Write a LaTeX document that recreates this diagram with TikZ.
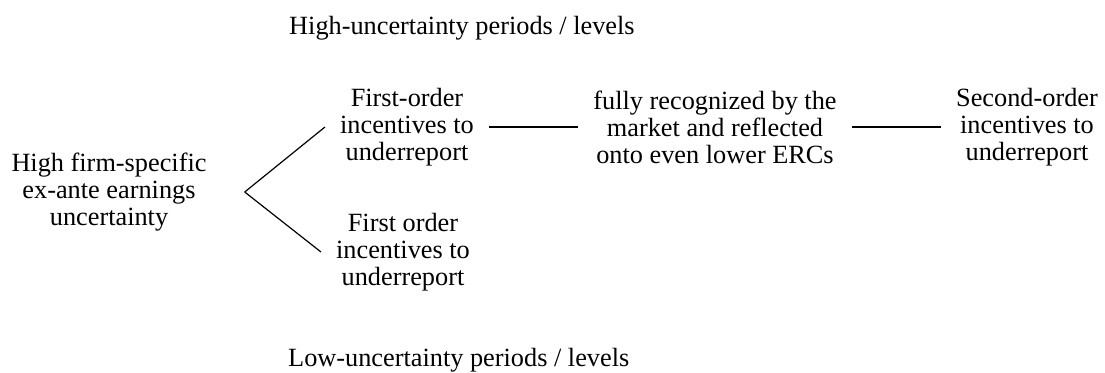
\documentclass[tikz,border=0pt]{standalone}
\usepackage{fontspec}
\setmainfont{Liberation Serif}
\usetikzlibrary{positioning}

\tikzset{
	box/.style={align=center, inner sep=15pt, font=\fontsize{26.3}{27}\selectfont},
	caption/.style={anchor=west, inner sep=0pt, font=\fontsize{26.3}{27}\selectfont},
	link/.style={line width=1.2pt},
}

\begin{document}
\begin{tikzpicture}[x=1pt, y=-1pt]
	\useasboundingbox (0, 0) rectangle (1105, 372);

	% Nodes:
	\node[box] (cause) at (109, 192) {High firm-specific\\ex-ante earnings\\uncertainty};
	\node[box] (high) at (407, 127) {First-order\\incentives to\\underreport};
	\node[box] (low) at (403, 252) {First order\\incentives to\\underreport};
	\node[box] (market) at (715, 127) {fully recognized by the\\market and reflected\\onto even lower ERCs};
	\node[box] (second) at (1027, 127) {Second-order\\incentives to\\underreport};
	\coordinate[right=23pt of cause] (fork);

	% Lines:
	\draw[link] (fork) -- (high.west);
	\draw[link] (fork) -- (low.west);
	\draw[link] (high) -- (market);
	\draw[link] (market) -- (second);

	% Labels
	\node[caption] (hilabel) at (289, 28) {High-uncertainty periods / levels};
	\node[caption] (lolabel) at (288, 360) {Low-uncertainty periods / levels};

\end{tikzpicture}
\end{document}
